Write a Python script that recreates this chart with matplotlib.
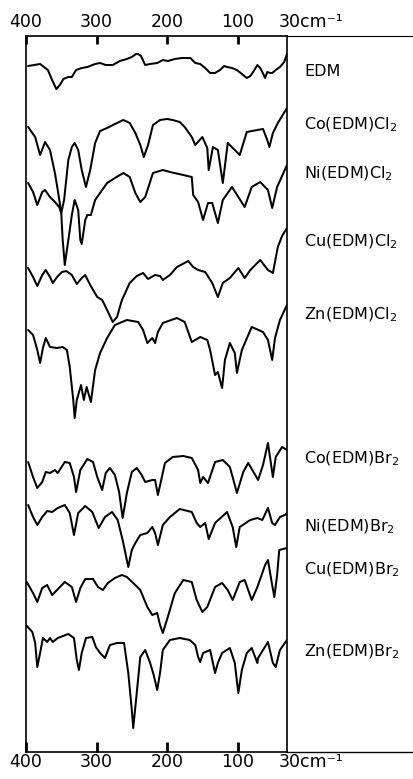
import matplotlib
matplotlib.use('Agg')
import matplotlib.pyplot as plt
import matplotlib.transforms as mtransforms

# ---------------- data (wavenumber cm-1, relative transmittance, arbitrary offset units) ----------------
edm_wn = [397, 380, 369, 363, 357, 352, 347, 340, 335, 329, 321, 313, 302, 295, 287, 277, 267, 257, 250, 244,
          241, 237, 231, 224, 214, 206, 199, 189, 179, 167, 160, 153, 146, 139, 132, 125, 119, 115, 108, 101,
          94, 87, 82, 78, 72, 68, 65, 61, 58, 54, 51, 46, 40, 34, 30]
edm_t = [686, 688, 682, 672, 663, 667, 673, 675, 675, 682, 684, 685, 688, 689, 687, 687, 691, 693, 695, 698,
         698, 696, 687, 688, 689, 692, 691, 693, 694, 694, 689, 688, 684, 679, 679, 682, 686, 685, 684, 682,
         678, 674, 676, 680, 687, 684, 680, 674, 680, 679, 679, 682, 685, 690, 698]

cocl_wn = [397, 387, 380, 373, 366, 359, 355, 350, 346, 340, 335, 331, 326, 321, 315, 309, 302, 295, 285, 274,
           262, 253, 245, 238, 233, 227, 220, 210, 200, 192, 182, 175, 165, 160, 150, 143, 141, 135, 128, 121,
           114, 104, 97, 87, 72, 64, 58, 55, 50, 43, 30]
cocl_t = [625, 615, 597, 610, 602, 579, 562, 539, 552, 592, 605, 609, 602, 582, 565, 582, 609, 621, 624, 628,
          632, 629, 619, 607, 595, 607, 627, 632, 633, 632, 630, 625, 615, 607, 615, 604, 582, 605, 602, 569,
          609, 602, 597, 620, 622, 623, 612, 605, 619, 629, 644]

nicl_wn = [397, 390, 384, 377, 373, 366, 359, 353, 350, 348, 345, 340, 335, 331, 326, 323, 321, 316, 313, 308,
           302, 285, 274, 262, 253, 245, 238, 231, 220, 206, 196, 177, 165, 163, 156, 149, 142, 136, 128, 121,
           108, 99, 90, 80, 68, 57, 51, 44, 30]
nicl_t = [569, 560, 547, 560, 562, 555, 550, 545, 539, 512, 487, 512, 537, 552, 542, 512, 508, 532, 537, 537,
          552, 569, 574, 579, 575, 559, 550, 555, 579, 582, 580, 577, 575, 557, 550, 532, 549, 549, 529, 552,
          565, 555, 545, 565, 570, 562, 544, 565, 587]

cucl_wn = [397, 390, 384, 377, 372, 366, 362, 356, 349, 343, 335, 328, 321, 316, 309, 299, 292, 285, 277, 271,
           264, 253, 243, 234, 227, 217, 210, 206, 196, 186, 170, 163, 156, 146, 136, 128, 121, 111, 99, 90,
           82, 68, 57, 50, 43, 37, 30]
cucl_t = [484, 475, 466, 477, 482, 475, 469, 475, 480, 481, 477, 468, 474, 477, 467, 455, 452, 442, 430, 435,
          452, 469, 476, 479, 473, 477, 476, 472, 477, 485, 491, 485, 482, 480, 469, 455, 469, 474, 484, 474,
          482, 492, 482, 479, 505, 516, 524]

zncl_wn = [397, 390, 384, 380, 376, 372, 366, 356, 348, 342, 338, 333, 331, 328, 322, 318, 314, 308, 302, 295,
           285, 274, 257, 241, 234, 228, 221, 217, 213, 206, 186, 175, 165, 153, 143, 139, 132, 128, 122, 118,
           111, 104, 101, 94, 80, 64, 57, 51, 47, 40, 30]
zncl_t = [422, 417, 402, 389, 404, 414, 405, 404, 405, 402, 385, 352, 334, 352, 367, 352, 365, 350, 382, 399,
          414, 427, 432, 430, 422, 409, 414, 409, 420, 429, 434, 430, 410, 415, 412, 402, 377, 380, 364, 392,
          409, 399, 379, 402, 425, 420, 412, 392, 414, 432, 447]

cobr_wn = [397, 390, 384, 377, 372, 366, 359, 355, 345, 338, 332, 329, 323, 313, 305, 299, 292, 287, 281, 274,
           268, 263, 257, 250, 243, 236, 231, 221, 217, 213, 203, 192, 177, 165, 156, 153, 149, 142, 132, 121,
           111, 104, 101, 92, 85, 75, 71, 64, 57, 50, 46, 37, 30]
cobr_t = [290, 275, 264, 270, 280, 279, 282, 279, 290, 289, 275, 260, 282, 293, 290, 275, 262, 279, 284, 277,
          260, 234, 259, 280, 284, 277, 270, 272, 272, 257, 289, 295, 296, 294, 282, 269, 275, 269, 290, 292,
          285, 267, 259, 280, 289, 277, 272, 287, 309, 275, 295, 305, 302]

nibr_wn = [397, 390, 384, 377, 370, 363, 355, 345, 338, 332, 326, 316, 306, 297, 288, 278, 270, 263, 255, 250,
           245, 238, 228, 221, 217, 213, 206, 196, 182, 165, 158, 153, 146, 141, 132, 115, 107, 102, 97, 82,
           72, 65, 57, 51, 47, 40, 33, 30]
nibr_t = [247, 235, 227, 235, 241, 240, 244, 247, 239, 217, 239, 246, 240, 224, 235, 240, 232, 212, 185, 202,
          209, 217, 219, 225, 219, 207, 227, 235, 243, 240, 229, 225, 229, 213, 229, 240, 225, 205, 225, 232,
          234, 232, 244, 229, 227, 235, 237, 239]

cubr_wn = [399, 390, 384, 377, 370, 363, 356, 345, 335, 329, 323, 316, 305, 298, 291, 284, 274, 264, 257, 248,
           238, 228, 221, 214, 210, 206, 199, 189, 177, 165, 158, 150, 143, 132, 122, 114, 107, 97, 90, 80,
           72, 61, 57, 53, 48, 44, 41, 30]
cubr_t = [170, 159, 150, 164, 167, 157, 162, 170, 165, 150, 164, 173, 173, 165, 162, 169, 174, 177, 175, 169,
          162, 145, 137, 139, 127, 119, 135, 159, 172, 170, 152, 140, 145, 165, 169, 162, 152, 170, 172, 152,
          165, 187, 192, 175, 155, 177, 202, 204]

znbr_wn = [400, 391, 387, 384, 380, 376, 370, 366, 362, 355, 340, 332, 328, 325, 321, 315, 306, 301, 295, 288,
           281, 271, 261, 255, 250, 248, 244, 238, 231, 224, 219, 214, 210, 206, 196, 182, 168, 160, 156, 153,
           149, 139, 132, 128, 122, 111, 104, 99, 94, 87, 80, 72, 71, 64, 57, 50, 46, 40, 33, 30]
znbr_t = [127, 120, 109, 85, 99, 114, 110, 114, 110, 114, 118, 114, 92, 82, 99, 114, 115, 105, 99, 94,
          107, 109, 109, 79, 42, 24, 52, 95, 102, 89, 77, 62, 79, 102, 112, 114, 112, 107, 95, 90,
          99, 102, 79, 89, 99, 104, 89, 59, 82, 99, 104, 89, 94, 102, 110, 89, 85, 102, 109, 112]

spectra_wn = [edm_wn, cocl_wn, nicl_wn, cucl_wn, zncl_wn, cobr_wn, nibr_wn, cubr_wn, znbr_wn]
spectra_t = [edm_t, cocl_t, nicl_t, cucl_t, zncl_t, cobr_t, nibr_t, cubr_t, znbr_t]
labels = ['EDM', 'Co(EDM)Cl$_2$', 'Ni(EDM)Cl$_2$', 'Cu(EDM)Cl$_2$', 'Zn(EDM)Cl$_2$',
          'Co(EDM)Br$_2$', 'Ni(EDM)Br$_2$', 'Cu(EDM)Br$_2$', 'Zn(EDM)Br$_2$']
label_y = [676, 623, 574, 506, 433, 289, 221, 178, 96]

xticks = [400, 300, 200, 100, 30]
xticklabels = ['400', '300', '200', '100', '']
unit_label = '30cm\u207b\u00b9'

# ---------------- figure ----------------
W, H = 414, 779
fig = plt.figure(figsize=(W / 100, H / 100), dpi=100)
L, R, T, B = 26, 287, 36, 752
ax = fig.add_axes([L / W, 1 - B / H, (R - L) / W, (B - T) / H])

for wn, t in zip(spectra_wn, spectra_t):
    ax.plot(wn, t, color='black', lw=1.45, solid_joinstyle='round', solid_capstyle='round')

ax.set_xlim(400, 30)
ax.set_ylim(0, 716)
ax.set_yticks([])
for s in ax.spines.values():
    s.set_linewidth(1.2)

FS = 12.5
ax.set_xticks(xticks)
ax.set_xticklabels(xticklabels)
ax.tick_params(axis='x', which='major', direction='in', top=True, bottom=True,
               labeltop=True, labelbottom=True, width=1.5, length=0, labelsize=FS, pad=1)
for tk in ax.xaxis.get_major_ticks():
    tk.label2.set_transform(tk.label2.get_transform() +
                            mtransforms.ScaledTranslation(0, 2.5 / 72, fig.dpi_scale_trans))

# inward tick marks (top shorter than bottom)
xtr = ax.get_xaxis_transform()
tick_len_top = 8 / (B - T)
tick_len_bot = 10 / (B - T)
ax.vlines(xticks[:-1], 1 - tick_len_top, 1, transform=xtr, color='black', lw=2, clip_on=False, zorder=5)
ax.vlines(xticks[:-1], 0, tick_len_bot, transform=xtr, color='black', lw=2, clip_on=False, zorder=5)

# "30cm-1" labels, with the "30" centred on the 30 tick
xoff = (279 - R) / (R - L)
ax.text(1 + xoff, 1, unit_label, transform=ax.transAxes + mtransforms.ScaledTranslation(0, 3.5 / 72, fig.dpi_scale_trans),
        ha='left', va='bottom', fontsize=FS)
ax.text(1 + xoff, 0, unit_label, transform=ax.transAxes + mtransforms.ScaledTranslation(0, -1 / 72, fig.dpi_scale_trans),
        ha='left', va='top', fontsize=FS)

# horizontal frame lines extended to the right edge
xe = (W - L) / (R - L)
ax.plot([1, xe], [1, 1], transform=ax.transAxes, clip_on=False, color='black', lw=0.8)
ax.plot([1, xe], [0, 0], transform=ax.transAxes, clip_on=False, color='black', lw=1.0)

xl = (304 - L) / (R - L)
for lab, y in zip(labels, label_y):
    ax.text(xl, y, lab, transform=ax.get_yaxis_transform(), ha='left', va='baseline',
            fontsize=11.5, family='DejaVu Sans', clip_on=False)

fig.savefig('out.png', dpi=100)
